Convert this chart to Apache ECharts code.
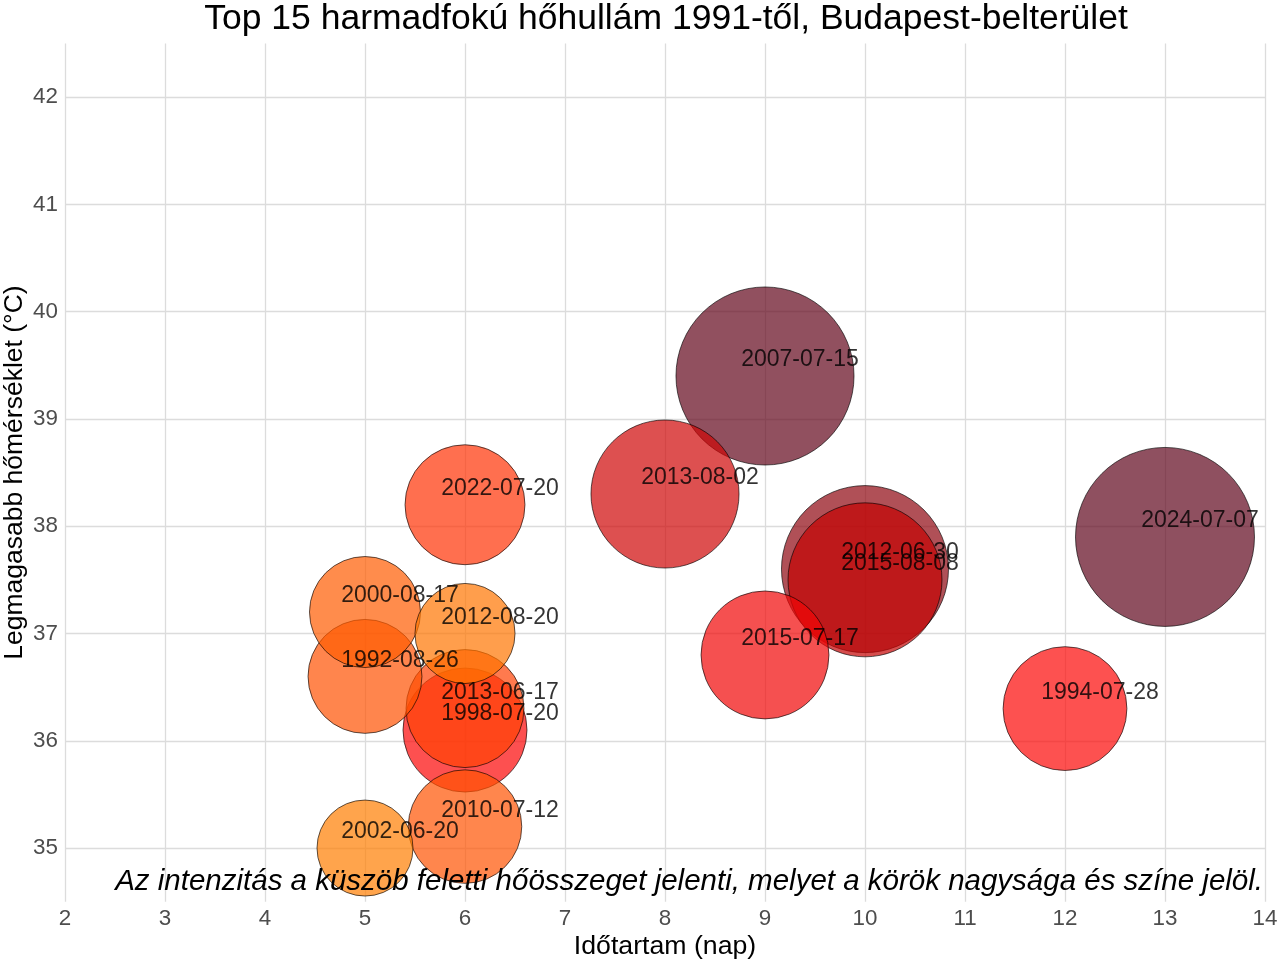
<!DOCTYPE html>
<html>
<head>
<meta charset="utf-8">
<script src="https://cdn.jsdelivr.net/npm/echarts@6/dist/echarts.min.js"></script>
<style>
html,body{margin:0;padding:0;background:#fff;}
#chart{width:1280px;height:960px;}
</style>
</head>
<body>
<div id="chart"></div>
<script>
// Heatwave events (drawn in this order: higher intensity first)
const events = ['2024-07-07','2007-07-15','2012-06-30','2015-08-08','2013-08-02','2015-07-17','1998-07-20','1994-07-28','2022-07-20','2013-06-17','1992-08-26','2010-07-12','2000-08-17','2012-08-20','2002-06-20'];
const durationDays = [13, 9, 10, 10, 8, 9, 6, 12, 6, 6, 5, 6, 5, 6, 5];
const maxTemp = [37.9, 39.4, 37.6, 37.5, 38.3, 36.8, 36.1, 36.3, 38.2, 36.3, 36.6, 35.2, 37.2, 37.0, 35.0];
const intensity = [60.5, 59.8, 51.7, 42.8, 39.0, 27.2, 25.1, 25.0, 23.0, 22.0, 20.0, 19.8, 18.6, 13.7, 12.0];
const xTicks = [2,3,4,5,6,7,8,9,10,11,12,13,14];
const yTicks = [35,36,37,38,39,40,41,42];

const titleText = 'Top 15 harmadfokú hőhullám 1991-től, Budapest-belterület';
const xName = 'Időtartam (nap)';
const yName = 'Legmagasabb hőmérséklet (°C)';
const captionText = 'Az intenzitás a küszöb feletti hőösszeget jelenti, melyet a körök nagysága és színe jelöl.';

const FONT = '"Liberation Sans", Arial, sans-serif';
const nudgeX = 0.35, nudgeY = 0.15;

// colour scale anchors (position in 0..1 of intensity range, colour)
const colorAnchors = [[0,'#FF7E00'],[0.14,'#FF5A00'],[0.22,'#FF3C04'],[0.262,'#FF0505'],[0.31,'#F10505'],[0.56,'#CD0505'],[0.64,'#C50000'],[0.82,'#8E0510'],[1,'#5F051C']];
function hex2rgb(h){return [parseInt(h.slice(1,3),16),parseInt(h.slice(3,5),16),parseInt(h.slice(5,7),16)];}
function buildStops(n){
  const out=[];
  for(let k=0;k<n;k++){
    const t=k/(n-1);
    let j=0; while(j<colorAnchors.length-2 && t>colorAnchors[j+1][0]) j++;
    const [t0,c0]=colorAnchors[j],[t1,c1]=colorAnchors[j+1];
    const f=(t-t0)/(t1-t0), a=hex2rgb(c0), b=hex2rgb(c1);
    out.push('rgb('+a.map((v,i)=>Math.round(v+(b[i]-v)*f)).join(',')+')');
  }
  return out;
}

const bubbleData = events.map((e, i) => [durationDays[i], maxTemp[i], intensity[i], e]);
const labelData = events.map((e, i) => [durationDays[i] + nudgeX, maxTemp[i] + nudgeY, intensity[i], e]);

const chart = echarts.init(document.getElementById('chart'), null, {renderer: 'canvas'});
chart.setOption({
  backgroundColor: '#ffffff',
  animation: false,
  title: {
    text: titleText,
    left: 661, top: -4, textAlign: 'center',
    textStyle: {fontFamily: FONT, fontSize: 35.5, fontWeight: 'normal', color: '#000'}
  },
  grid: {left: 65, right: 15, top: 43.4, bottom: 58.3, containLabel: false, outerBoundsMode: 'none'},
  xAxis: {
    type: 'value', min: 2, max: 14, interval: 1,
    name: xName, nameLocation: 'middle', nameGap: 31, nameMoveOverlap: false,
    nameTextStyle: {fontFamily: FONT, fontSize: 26.7, color: '#000'},
    axisLine: {show: false}, axisTick: {show: false},
    axisLabel: {fontFamily: FONT, fontSize: 22.4, color: '#4D4D4D', margin: 6,
      formatter: v => xTicks.includes(v) ? String(v) : ''},
    splitLine: {show: true, lineStyle: {color: '#DCDCDC', width: 1.3}}
  },
  yAxis: {
    type: 'value', min: 34.5, max: 42.5,
    name: yName, nameLocation: 'middle', nameGap: 37, nameRotate: 90, nameMoveOverlap: false,
    nameTextStyle: {fontFamily: FONT, fontSize: 26.5, color: '#000'},
    axisLine: {show: false},
    axisTick: {show: false, customValues: yTicks},
    axisLabel: {fontFamily: FONT, fontSize: 22.4, color: '#4D4D4D', margin: 7, customValues: yTicks},
    splitLine: {show: true, lineStyle: {color: '#DCDCDC', width: 1.3}}
  },
  visualMap: {
    show: false, type: 'continuous', seriesIndex: 0, dimension: 2,
    min: 12, max: 60.5,
    inRange: {color: buildStops(49)}
  },
  series: [
    {
      type: 'scatter',
      data: bubbleData,
      symbolSize: v => 2 * Math.sqrt(893 + 117.6 * v[2]),
      itemStyle: {opacity: 0.7, borderColor: '#000', borderWidth: 0.9},
      emphasis: {disabled: true},
      z: 2
    },
    {
      type: 'scatter',
      data: labelData,
      symbolSize: 1,
      itemStyle: {color: 'rgba(0,0,0,0)'},
      label: {
        show: true, position: 'inside',
        formatter: p => p.data[3],
        fontFamily: FONT, fontSize: 23, color: '#000'
      },
      emphasis: {disabled: true},
      z: 5
    }
  ],
  graphic: [{
    type: 'text',
    x: 1263, y: 882,
    style: {
      text: captionText,
      font: 'italic 29.5px ' + FONT,
      fill: '#000',
      align: 'right', verticalAlign: 'middle'
    },
    z: 10
  }]
});
</script>
</body>
</html>
